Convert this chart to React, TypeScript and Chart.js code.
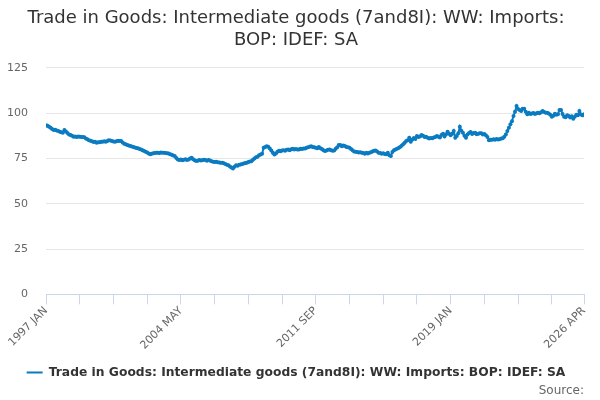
import { useEffect, useRef } from 'react'
import Chart from 'chart.js/auto'

const title = ['Trade in Goods: Intermediate goods (7and8I): WW: Imports:', 'BOP: IDEF: SA']
const seriesName = 'Trade in Goods: Intermediate goods (7and8I): WW: Imports: BOP: IDEF: SA'
const startYear = 1997
const monthNames = ['JAN', 'FEB', 'MAR', 'APR', 'MAY', 'JUN', 'JUL', 'AUG', 'SEP', 'OCT', 'NOV', 'DEC']

// monthly values, 1997 JAN .. 2026 APR
const imports = [
  93.3, 93.0, 92.5, 92.0, 91.3, 90.7, 90.9, 90.4, 90.2, 89.8, 89.5, 89.2,
  90.7, 89.9, 89.0, 88.3, 87.9, 87.5, 87.0, 87.2, 86.9, 87.1, 87.0, 86.8,
  86.9, 86.7, 86.0, 85.6, 85.0, 84.8, 84.5, 84.1, 84.3, 83.7, 83.9, 84.0,
  84.2, 84.2, 84.5, 84.3, 84.6, 85.0, 84.9, 84.6, 84.4, 84.2, 84.5, 84.8,
  84.6, 84.6, 83.8, 83.1, 82.8, 82.5, 82.2, 81.9, 81.6, 81.4, 81.0, 80.8,
  80.6, 80.2, 79.9, 79.5, 79.1, 78.7, 78.3, 77.8, 77.3, 77.6, 77.9, 78.0,
  78.1, 78.2, 78.0, 78.3, 78.2, 78.2, 78.0, 77.9, 77.8, 77.4, 77.0, 76.6,
  76.3, 75.3, 74.5, 74.2, 74.4, 74.0, 74.3, 74.6, 74.2, 74.5, 75.0, 75.4,
  74.6, 74.0, 73.6, 73.8, 74.2, 73.9, 74.0, 74.3, 74.1, 73.8, 74.1, 73.9,
  73.5, 73.2, 73.0, 73.2, 72.9, 72.8, 72.6, 72.7, 72.3, 72.0, 71.6, 71.2,
  70.6, 70.0, 69.5, 70.4, 71.3, 71.0, 71.5, 71.7, 72.0, 72.2, 72.5, 72.6,
  73.0, 73.3, 73.5, 74.3, 75.0, 75.7, 76.0, 76.8, 77.2, 77.6, 80.9, 81.3,
  81.8, 81.5, 80.5, 79.4, 78.2, 77.2, 77.8, 78.7, 79.2, 79.0, 79.4, 79.6,
  79.3, 79.8, 80.0, 79.6, 80.1, 80.3, 79.9, 80.2, 80.0, 80.0, 80.4, 80.2,
  80.5, 80.5, 80.9, 81.2, 81.5, 81.8, 81.4, 81.2, 80.9, 80.6, 81.3, 80.7,
  80.2, 79.6, 79.1, 79.4, 79.8, 80.0, 79.6, 79.2, 79.4, 80.4, 81.2, 82.4,
  82.4, 81.8, 82.1, 81.9, 81.4, 81.2, 80.9, 80.2, 79.5, 78.9, 78.7, 78.6,
  78.3, 78.5, 78.2, 78.0, 77.6, 78.1, 77.8, 78.2, 78.5, 78.9, 79.2, 79.4,
  78.8, 78.2, 78.0, 77.6, 77.9, 77.5, 77.3, 78.2, 76.8, 76.3, 78.6, 79.5,
  80.0, 80.3, 80.8, 81.3, 82.0, 82.9, 83.7, 84.6, 85.0, 86.4, 84.3, 85.5,
  86.3, 85.8, 87.4, 86.9, 87.2, 87.9, 87.5, 86.8, 87.0, 86.4, 86.0, 86.3,
  86.1, 86.6, 86.9, 87.4, 87.0, 86.6, 87.9, 88.6, 87.1, 88.4, 89.8, 88.7,
  87.8, 88.6, 90.2, 86.5, 87.4, 88.9, 92.5, 90.3, 89.2, 87.6, 86.5, 88.2,
  89.0, 89.6, 88.5, 89.0, 89.2, 88.4, 88.7, 88.9, 88.9, 88.2, 88.5, 87.8,
  86.8, 85.0, 85.3, 85.4, 85.6, 85.4, 85.7, 85.5, 85.6, 86.0, 86.2, 87.0,
  88.2, 90.2, 92.0, 93.9, 95.5, 98.5, 100.8, 104.0, 102.3, 101.8, 101.2, 102.5,
  102.5, 100.8, 99.4, 100.2, 99.5, 99.9, 100.1, 99.6, 100.0, 100.3, 100.0, 100.5,
  101.2, 100.6, 100.2, 100.3, 99.8, 99.2, 98.1, 98.6, 99.7, 99.2, 99.4, 101.8,
  101.8, 99.6, 98.1, 97.8, 98.9, 98.5, 97.6, 98.3, 97.0, 98.0, 99.2, 98.8,
  101.2, 99.3, 98.8, 99.4,
]

const tickIndices = [0, 22, 44, 66, 88, 110, 132, 154, 176, 198, 220, 242, 264, 286, 308, 330, 351]
const labelIndices = [0, 88, 176, 264, 351]
const yTicks = [0, 25, 50, 75, 100, 125]

const months = imports.map((_, i) => `${startYear + Math.floor(i / 12)} ${monthNames[i % 12]}`)

const blue = '#0b7bc1'
const font = 'DejaVu Sans'

export default function App() {
  const canvasRef = useRef<HTMLCanvasElement>(null)

  useEffect(() => {
    document.body.style.margin = '0'
    if (!canvasRef.current) return

    const chart = new Chart(canvasRef.current, {
      type: 'line',
      data: {
        datasets: [{
          label: seriesName,
          data: imports.map((v, i) => ({ x: i, y: v })),
          borderColor: blue,
          backgroundColor: blue,
          borderWidth: 2,
          pointRadius: 2,
          pointBorderWidth: 0,
          pointBackgroundColor: blue,
          tension: 0,
        }],
      },
      options: {
        animation: false,
        responsive: false,
        layout: { padding: { left: 8, right: 16, top: 0, bottom: 5 } },
        plugins: {
          title: {
            display: true,
            text: title,
            color: '#333333',
            font: { family: font, size: 18, weight: 'normal', lineHeight: 1.22 },
            padding: { top: 7, bottom: 17 },
          },
          subtitle: {
            display: true,
            text: 'Source:',
            position: 'bottom',
            align: 'end',
            color: '#666666',
            font: { family: font, size: 12 },
            padding: { top: -5, bottom: -3 },
          },
          legend: {
            position: 'bottom',
            labels: {
              color: '#333333',
              font: { family: font, size: 12.3, weight: 'bold' },
              boxWidth: 16,
              boxHeight: 2,
              padding: 6,
              generateLabels: (c: any) =>
                Chart.defaults.plugins.legend.labels.generateLabels(c).map((l: any) => ({ ...l, lineWidth: 0 })),
            },
          },
          tooltip: { enabled: false },
        },
        scales: {
          x: {
            type: 'linear',
            min: 0,
            max: imports.length - 1,
            afterBuildTicks: (axis: any) => { axis.ticks = tickIndices.map(v => ({ value: v })) },
            afterFit: (axis: any) => { axis.height = 66 },
            border: { color: '#ccd6eb' },
            grid: { drawOnChartArea: false, drawTicks: true, tickLength: 10, color: '#ccd6eb' },
            ticks: {
              autoSkip: false,
              minRotation: 45,
              maxRotation: 45,
              padding: 0,
              color: '#666666',
              font: { family: font, size: 11 },
              callback: (v: any) => (labelIndices.includes(v) ? months[v] : ''),
            },
          },
          y: {
            min: 0,
            max: 125,
            afterBuildTicks: (axis: any) => { axis.ticks = yTicks.map(v => ({ value: v })) },
            afterFit: (axis: any) => { axis.width = 38 },
            border: { display: false },
            grid: { color: '#e6e6e6', drawTicks: false },
            ticks: {
              padding: 18,
              color: '#666666',
              font: { family: font, size: 11 },
            },
          },
        },
      },
    })

    return () => { chart.destroy() }
  }, [])

  return <canvas ref={canvasRef} width={600} height={400} style={{ display: 'block' }} />
}
